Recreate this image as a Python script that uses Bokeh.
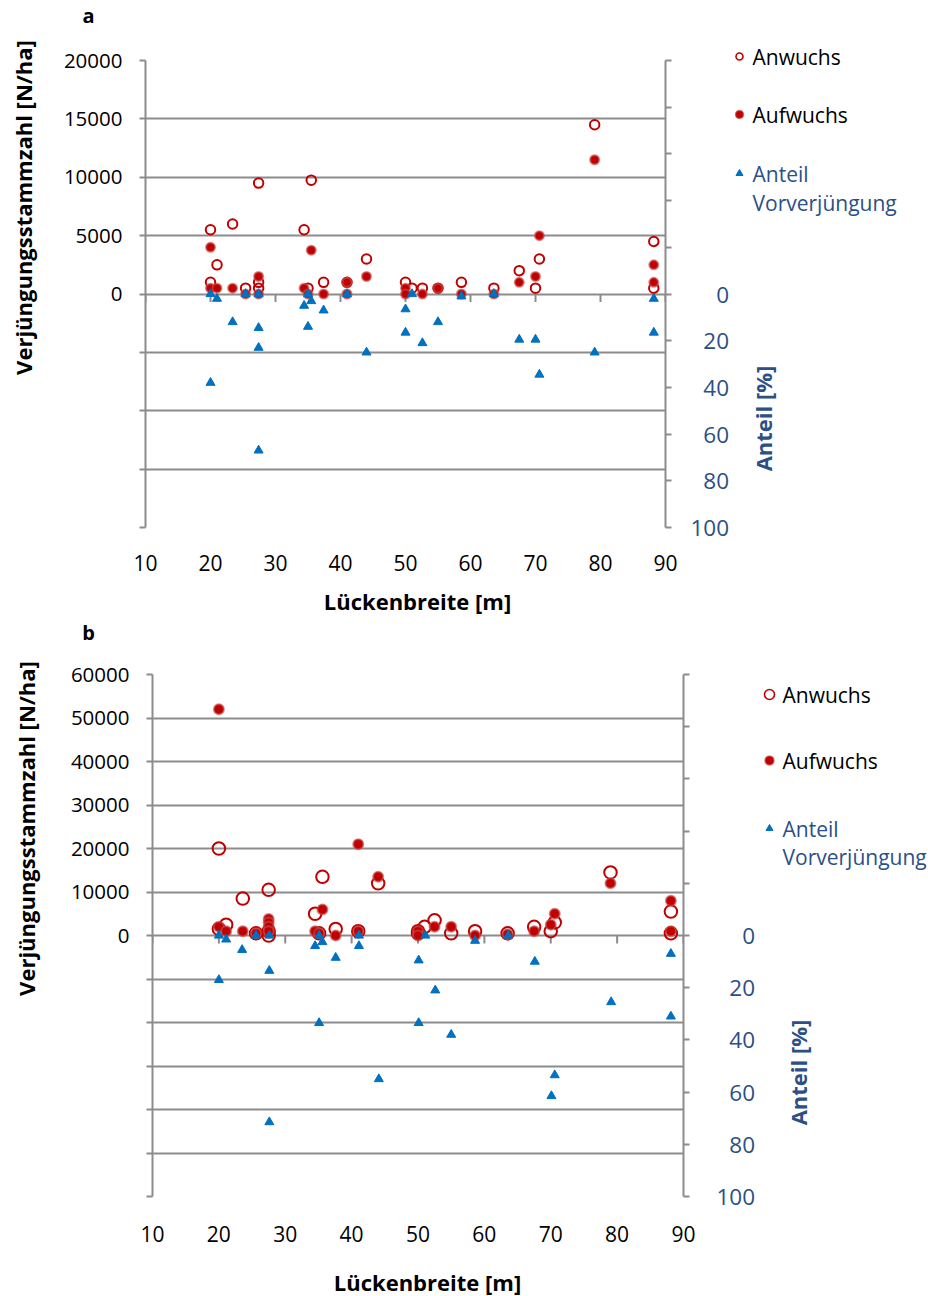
from math import pi
from bokeh.plotting import figure
from bokeh.models import Range1d, LinearAxis, FixedTicker
from bokeh.layouts import column, row
from bokeh.core.properties import value
from bokeh.embed import file_html
from bokeh.resources import INLINE

FONT = "Open Sans"
RED = "#C00000"
BLUE = "#0070C0"
AXBLUE = "#2B4F86"
GRID = "#8C8C8C"

# ---------------- data ----------------
x_ticks = [10, 20, 30, 40, 50, 60, 70, 80, 90]
series_names = ["Anwuchs", "Aufwuchs", "Anteil", "Vorverjüngung"]
y_title = "Verjüngungsstammzahl [N/ha]"
y2_title = "Anteil [%]"
x_title = "Lückenbreite [m]"

# panel a
a_left_ticks = [-20000, -15000, -10000, -5000, 0, 5000, 10000, 15000, 20000]
a_right_ticks = [-100, -80, -60, -40, -20, 0, 20, 40, 60, 80, 100]
a_anw_x = [20.0, 20.0, 21.0, 23.4, 25.4, 27.4, 27.4, 27.4, 34.4, 35.0, 35.5, 37.4, 41.0, 44.0,
           50.0, 51.0, 52.6, 55.0, 58.6, 63.6, 67.5, 70.0, 70.6, 79.1, 88.2, 88.2]
a_anw = [5500, 1000, 2500, 6000, 500, 9500, 1000, 500, 5500, 500, 9750, 1000, 1000, 3000,
         1000, 500, 500, 500, 1000, 500, 2000, 500, 3000, 14500, 4500, 500]
a_auf_x = [20.0, 20.0, 21.0, 23.4, 25.4, 27.4, 27.4, 34.4, 35.0, 35.5, 37.4, 41.0, 41.0, 44.0,
           50.0, 50.0, 52.6, 55.0, 58.6, 63.6, 67.5, 70.0, 70.6, 79.1, 88.2, 88.2]
a_auf = [4000, 500, 500, 500, 0, 1500, 0, 500, 0, 3750, 0, 1000, 0, 1500,
         500, 0, 0, 500, 0, 0, 1000, 1500, 5000, 11500, 2500, 1000]
a_ant_x = [20.0, 20.0, 21.0, 23.4, 25.4, 27.4, 27.4, 27.4, 27.4, 34.4, 35.0, 35.0, 35.5, 37.4,
           41.0, 44.0, 50.0, 50.0, 51.0, 52.6, 55.0, 58.6, 63.6, 67.5, 70.0, 70.6, 79.1, 88.2, 88.2]
a_ant = [0, 38, 2, 12, 0, 0, 14.5, 23, 67, 5, 0, 14, 3, 7,
         0, 25, 6.5, 16.5, 0, 21, 12, 1, 0, 19.5, 19.5, 34.5, 25, 2, 16.5]

# panel b
b_left_ticks = [-60000, -50000, -40000, -30000, -20000, -10000, 0,
                10000, 20000, 30000, 40000, 50000, 60000]
b_right_ticks = [-100, -80, -60, -40, -20, 0, 20, 40, 60, 80, 100]
b_anw_x = [20.0, 20.0, 21.1, 23.6, 25.6, 27.5, 27.5, 27.5, 34.5, 35.1, 35.6, 37.6, 41.0, 44.0,
           50.0, 50.0, 51.0, 52.5, 55.0, 58.6, 63.5, 67.5, 70.0, 70.6, 79.0, 88.1, 88.1]
b_anw = [20000, 1500, 2500, 8500, 500, 10500, 1000, 0, 5000, 500, 13500, 1500, 1000, 12000,
         1000, 500, 2000, 3500, 500, 1000, 500, 2000, 1000, 3000, 14500, 5500, 500]
b_auf_x = [20.0, 20.0, 21.1, 23.6, 25.6, 27.5, 27.5, 27.5, 27.5, 34.5, 35.1, 35.6, 37.6, 41.0,
           41.0, 44.0, 50.0, 50.0, 52.5, 55.0, 58.6, 63.5, 67.5, 70.0, 70.6, 79.0, 88.1, 88.1]
b_auf = [52000, 2000, 1000, 1000, 500, 3800, 3000, 2000, 1000, 1000, 500, 6000, 0, 21000,
         1000, 13500, 1000, 0, 2000, 2000, 0, 300, 1000, 2500, 5000, 12000, 8000, 1000]
b_ant_x = [20.0, 20.0, 21.1, 23.5, 25.6, 27.6, 27.6, 27.6, 34.5, 35.1, 35.1, 35.6, 37.6, 41.1,
           41.1, 44.1, 50.1, 50.1, 51.1, 52.6, 55.0, 58.6, 63.6, 67.6, 70.1, 70.6, 79.1, 88.1, 88.1]
b_ant = [0, 17, 1.5, 5.5, 0, 0, 13.5, 71.5, 4, 0, 33.5, 2.5, 8.5, 0,
         4, 55, 9.5, 33.5, 0, 21, 38, 2, 0, 10, 61.5, 53.5, 25.5, 7, 31]


def strip(w, h):
    """A blank figure whose frame is the whole canvas, in pixel coordinates (y down)."""
    s = figure(width=w, height=h, x_range=Range1d(0, w), y_range=Range1d(h, 0),
               output_backend="svg", toolbar_location=None, title=None,
               x_axis_location=None, y_axis_location=None,
               min_border=0, min_border_left=0, min_border_right=0,
               min_border_top=0, min_border_bottom=0)
    s.xgrid.visible = False
    s.ygrid.visible = False
    s.outline_line_color = None
    s.background_fill_color = "white"
    s.border_fill_color = "white"
    return s


def txt(s, x, y, t, size="21px", bold=False, color="black", angle=0.0, align="center"):
    s.text(x=[x], y=[y], text=[t], text_font=value(FONT), text_font_size=value(size),
           text_font_style="bold" if bold else "normal", text_color=color,
           text_align=align, text_baseline="middle", angle=angle)


def main_fig(W, H, frame, ticks_left, ticks_right, anw_x, anw, auf_x, auf, ant_x, ant,
             sizes, rstand, xstand):
    L, T, R, B = frame
    yr = (ticks_left[0], ticks_left[-1])
    p = figure(width=W, height=H, x_range=Range1d(10, 90), y_range=Range1d(*yr),
               output_backend="svg", toolbar_location=None, title=None,
               min_border_left=L, min_border_right=W - R,
               min_border_top=T, min_border_bottom=H - B)
    p.outline_line_color = None
    p.background_fill_color = "white"
    p.border_fill_color = "white"
    p.extra_y_ranges = {"pct": Range1d(ticks_right[-1], ticks_right[0])}

    p.xgrid.grid_line_color = None
    p.ygrid.ticker = FixedTicker(ticks=ticks_left)
    p.ygrid.grid_line_color = GRID
    p.ygrid.grid_line_width = 2

    ya = p.yaxis[0]
    ya.ticker = FixedTicker(ticks=ticks_left)
    ya.major_label_overrides = {t: (str(t) if t >= 0 else "") for t in ticks_left}
    ya.axis_line_color = GRID
    ya.axis_line_width = 2
    ya.major_tick_line_color = GRID
    ya.major_tick_line_width = 2
    ya.major_tick_out = 6
    ya.major_tick_in = 0
    ya.minor_tick_line_color = None
    ya.major_label_standoff = 17
    ya.major_label_text_font = FONT
    ya.major_label_text_font_size = "20.5px"
    ya.major_label_text_color = "black"

    ra = LinearAxis(y_range_name="pct")
    ra.ticker = FixedTicker(ticks=ticks_right)
    # right-aligned look: pad shorter labels with figure spaces
    ra.major_label_overrides = {t: ("\u2007" * (3 - len(str(t))) + str(t) if t >= 0 else "")
                                for t in ticks_right}
    ra.axis_line_color = GRID
    ra.axis_line_width = 2
    ra.major_tick_line_color = GRID
    ra.major_tick_line_width = 2
    ra.major_tick_out = 6
    ra.major_tick_in = 0
    ra.minor_tick_line_color = None
    ra.major_label_standoff = rstand
    ra.major_label_text_font = FONT
    ra.major_label_text_font_size = "22.5px"
    ra.major_label_text_color = AXBLUE
    p.add_layout(ra, "right")

    xa = p.xaxis[0]
    xa.ticker = FixedTicker(ticks=x_ticks)
    xa.axis_line_color = None
    xa.major_tick_line_color = None
    xa.minor_tick_line_color = None
    xa.major_label_standoff = xstand
    xa.major_label_text_font = FONT
    xa.major_label_text_font_size = "21px"
    xa.major_label_text_color = "black"

    # category-axis style tick marks hanging from the zero line
    tick_len = 8 * (yr[1] - yr[0]) / float(B - T)
    p.segment(x0=x_ticks, y0=[0] * len(x_ticks), x1=x_ticks, y1=[-tick_len] * len(x_ticks),
              line_color=GRID, line_width=2)

    p.scatter(anw_x, anw, marker="circle", size=sizes[0], fill_color=None,
              line_color=RED, line_width=2)
    p.scatter(auf_x, auf, marker="circle", size=sizes[1], fill_color=RED,
              line_color="#C84A4A", line_alpha=0.65, line_width=2)
    p.scatter(ant_x, ant, marker="triangle", size=sizes[2], fill_color=BLUE,
              line_color=BLUE, y_range_name="pct")
    return p


def legend_strip(w, h, mx, tx, ys, msizes, ytitle_pos):
    s = strip(w, h)
    s.scatter(x=[mx], y=[ys[0]], marker="circle", size=msizes[0], fill_color=None,
              line_color=RED, line_width=1.6)
    s.scatter(x=[mx], y=[ys[1]], marker="circle", size=msizes[1], fill_color=RED,
              line_color="#C84A4A", line_alpha=0.65, line_width=1.5)
    s.scatter(x=[mx], y=[ys[2]], marker="triangle", size=msizes[2], fill_color=BLUE,
              line_color=BLUE)
    txt(s, tx, ys[0], series_names[0], size="21px", align="left")
    txt(s, tx, ys[1], series_names[1], size="21px", align="left")
    txt(s, tx, ys[2], series_names[2], size="21px", color=AXBLUE, align="left")
    txt(s, tx, ys[3], series_names[3], size="21px", color=AXBLUE, align="left")
    txt(s, ytitle_pos[0], ytitle_pos[1], y2_title, size="22px", bold=True, color=AXBLUE,
        angle=pi / 2)
    return s


# ---------------- panel a ----------------
top_a = strip(928, 40)
txt(top_a, 88, 15, "a", size="20px", bold=True)
left_a = strip(45, 545)
txt(left_a, 22, 167, y_title, size="22px", bold=True, angle=pi / 2)
main_a = main_fig(689, 545, (100, 20, 620, 487), a_left_ticks, a_right_ticks,
                  a_anw_x, a_anw, a_auf_x, a_auf, a_ant_x, a_ant, (9.5, 9, 9), 19, 21)
right_a = legend_strip(194, 545, 5, 18, (16, 74, 133, 162), (7, 8, 7), (28, 378))
bot_a = strip(928, 35)
txt(bot_a, 417, 15, x_title, size="22px", bold=True)

# ---------------- panel b ----------------
top_b = strip(928, 36)
txt(top_b, 88, 12, "b", size="20px", bold=True)
left_b = strip(45, 599)
txt(left_b, 25, 172, y_title, size="22px", bold=True, angle=pi / 2)
main_b = main_fig(717, 599, (107, 18, 638, 540), b_left_ticks, b_right_ticks,
                  b_anw_x, b_anw, b_auf_x, b_auf, b_ant_x, b_ant, (12.5, 10, 9), 27, 23)
right_b = legend_strip(166, 599, 7, 20, (38, 104, 172, 200), (10, 9, 7), (35, 416))
bot_b = strip(928, 41)
txt(bot_b, 427, 26, x_title, size="22px", bold=True)

# the main figures are wrapped in their own column so that the side strips keep
# their full-canvas frames instead of being aligned to the chart frame
layout = column(top_a, row(left_a, column(main_a), right_a, spacing=0), bot_a,
                top_b, row(left_b, column(main_b), right_b, spacing=0), bot_b, spacing=0)
open("out.html", "w").write(file_html(layout, INLINE))
